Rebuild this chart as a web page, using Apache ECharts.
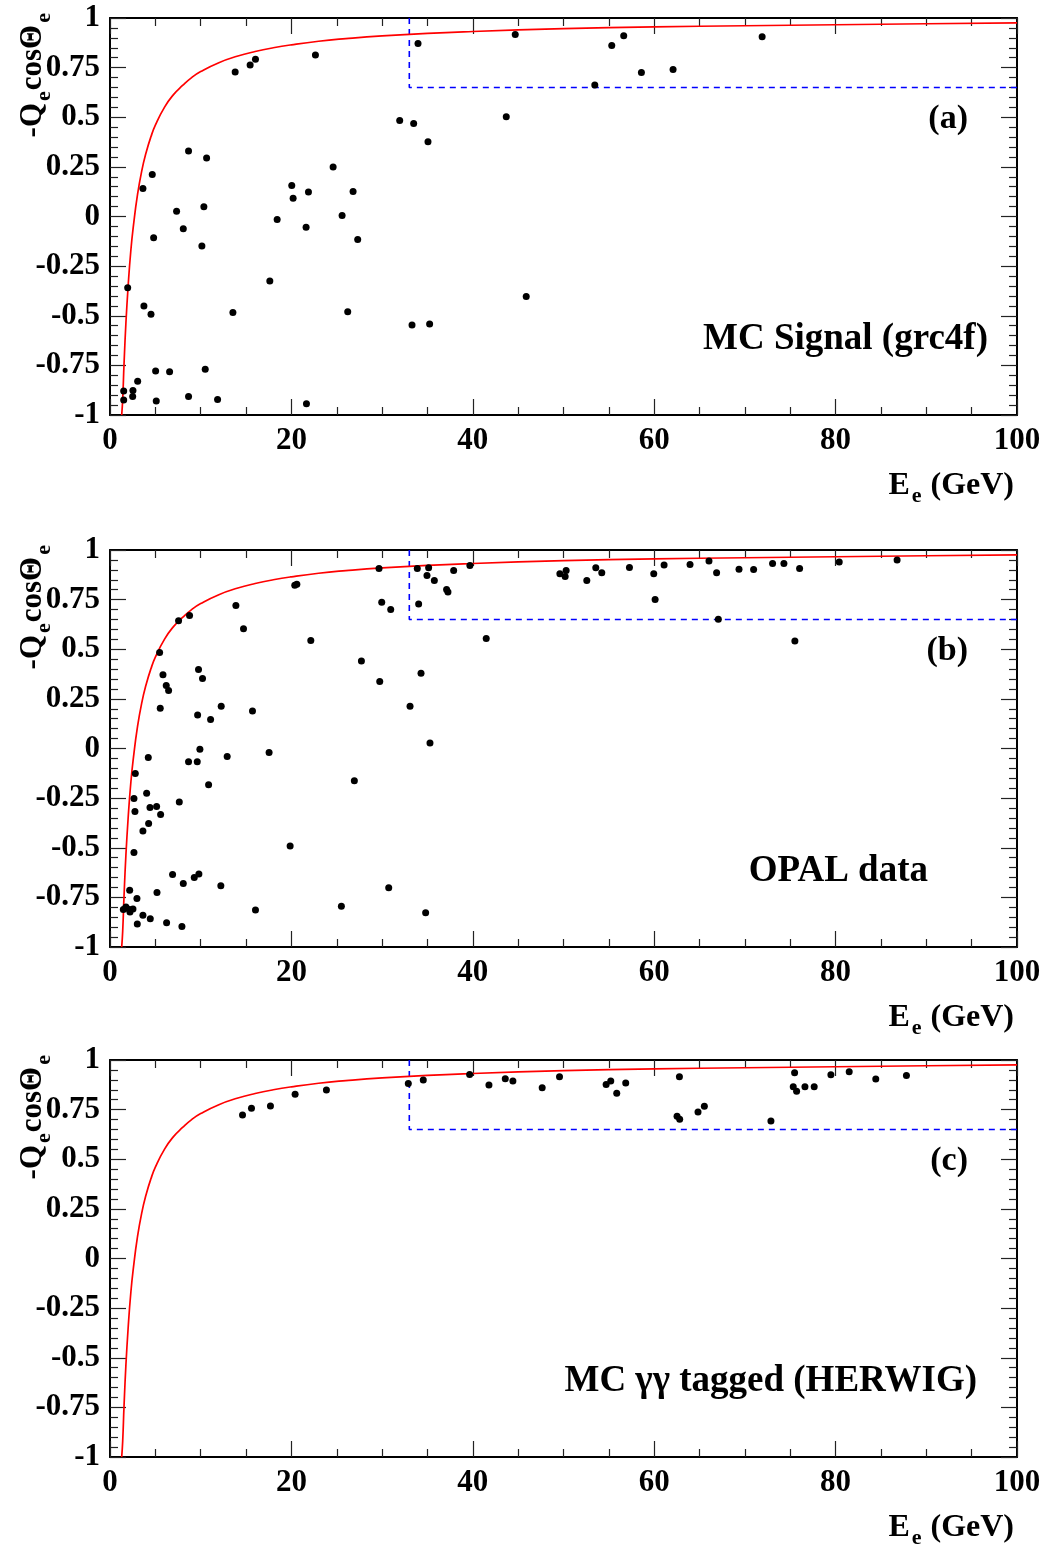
<!DOCTYPE html>
<html>
<head>
<meta charset="utf-8">
<script src="https://cdn.jsdelivr.net/npm/echarts@6/dist/echarts.min.js"></script>
<style>
html,body{margin:0;padding:0;background:#fff;}
#chart{width:1046px;height:1551px;}
</style>
</head>
<body>
<div id="chart"></div>
<script>
// ---- data (E_e in GeV, -Q_e cosTheta_e) ----
const mcSignal = [
  [33.96,0.872],[22.65,0.814],[16.04,0.792],[15.45,0.763],[13.8,0.728],[31.94,0.483],[33.48,0.468],
  [35.06,0.376],[8.66,0.330],[10.65,0.295],[24.6,0.250],[4.66,0.211],[3.63,0.141],[20.04,0.156],
  [20.19,0.092],[21.88,0.124],[26.8,0.126],[7.34,0.027],[10.35,0.049],[25.59,0.005],[18.43,-0.015],
  [8.08,-0.062],[21.62,-0.054],[4.81,-0.107],[27.31,-0.116],[10.13,-0.148],[17.62,-0.325],[1.95,-0.359],
  [3.74,-0.451],[4.52,-0.493],[13.55,-0.483],[26.21,-0.480],[33.3,-0.547],[35.24,-0.542],[5.03,-0.778],
  [6.57,-0.782],[10.5,-0.770],[3.05,-0.830],[1.51,-0.879],[2.53,-0.877],[2.5,-0.907],[1.51,-0.924],
  [5.1,-0.929],[8.66,-0.907],[11.86,-0.922],[21.66,-0.943],[44.68,0.917],[43.69,0.502],[45.89,-0.403],
  [53.45,0.663],[55.32,0.861],[56.64,0.911],[58.59,0.726],[62.08,0.740],[71.9,0.906]
];
const opalData = [
  [20.37,0.823],[20.6,0.827],[13.88,0.720],[8.77,0.670],[7.56,0.643],[14.72,0.603],[5.47,0.484],
  [9.76,0.398],[5.84,0.371],[10.2,0.353],[6.2,0.317],[6.46,0.292],[12.26,0.213],[5.54,0.203],
  [15.71,0.189],[9.66,0.169],[11.09,0.146],[9.91,-0.004],[17.54,-0.020],[4.22,-0.045],[12.92,-0.040],
  [8.66,-0.067],[9.62,-0.067],[2.79,-0.126],[10.87,-0.183],[4.04,-0.225],[2.64,-0.252],[7.64,-0.270],
  [4.41,-0.297],[5.14,-0.292],[2.75,-0.317],[5.58,-0.333],[4.26,-0.378],[3.63,-0.415],[2.64,-0.524],
  [19.86,-0.491],[6.9,-0.635],[9.8,-0.632],[9.29,-0.650],[8.08,-0.680],[12.22,-0.692],[2.17,-0.714],
  [5.18,-0.726],[2.97,-0.756],[1.76,-0.798],[1.47,-0.811],[2.13,-0.811],[2.53,-0.808],[2.2,-0.824],
  [16.04,-0.813],[3.63,-0.840],[4.44,-0.858],[3.01,-0.884],[6.24,-0.878],[7.93,-0.897],
  [29.66,0.907],[33.88,0.907],[35.13,0.910],[34.95,0.872],[35.76,0.846],[37.89,0.897],[37.11,0.801],
  [37.26,0.789],[39.68,0.922],[29.96,0.737],[30.95,0.700],[34.03,0.728],[22.14,0.544],[41.48,0.554],
  [27.72,0.441],[34.29,0.379],[29.74,0.338],[33.08,0.213],[35.28,0.028],[26.94,-0.163],[30.73,-0.702],
  [25.51,-0.795],[34.8,-0.828],
  [49.6,0.880],[50.29,0.897],[50.18,0.867],[52.57,0.846],[53.56,0.910],[54.22,0.885],[57.27,0.912],
  [59.95,0.880],[60.1,0.751],[61.09,0.925],[63.95,0.927],[66.04,0.944],[66.88,0.885],[67.07,0.651],
  [69.35,0.903],[70.96,0.902],[73.05,0.932],[74.3,0.932],[76.03,0.907],[75.51,0.541],[80.4,0.939],
  [86.78,0.949]
];
const mcGammaGamma = [
  [14.61,0.723],[15.6,0.757],[17.69,0.768],[20.41,0.827],[23.86,0.849],[32.89,0.882],[34.54,0.899],
  [39.65,0.927],[41.78,0.874],[43.58,0.906],[44.42,0.894],[47.65,0.860],[49.56,0.916],[54.7,0.877],
  [55.21,0.894],[55.87,0.832],[56.86,0.884],[62.78,0.916],[62.52,0.716],[62.81,0.701],[64.83,0.738],
  [65.53,0.767],[72.87,0.693],[75.48,0.936],[75.33,0.865],[75.7,0.842],[76.62,0.865],[77.64,0.865],
  [79.48,0.926],[81.5,0.941],[84.43,0.904],[87.81,0.922]
];
// red boundary curve
const boundaryCurve = [
  [1.29,-1],[1.4,-0.92],[1.55,-0.74],[1.75,-0.54],[2.0,-0.35],[2.3,-0.17],[2.6,-0.04],[3.0,0.1],
  [3.5,0.23],[4.0,0.325],[4.5,0.4],[5.0,0.46],[6.0,0.55],[7.0,0.614],[8.0,0.66],[9.0,0.70],[10,0.73],
  [12,0.775],[14,0.807],[16,0.831],[18,0.85],[20,0.865],[23,0.883],[26,0.896],[30,0.91],[35,0.923],
  [40,0.932],[50,0.946],[60,0.955],[70,0.961],[80,0.966],[90,0.971],[100,0.975]
];
// blue dashed selection region
const cutBox = [[33,1],[33,0.65],[100,0.65]];
const panelTags = ['(a)','(b)','(c)'];
const panelNames = ['MC Signal (grc4f)','OPAL data','MC \u03b3\u03b3 tagged (HERWIG)'];
const panelSets = [mcSignal, opalData, mcGammaGamma];

// ---- layout ----
const FONT = '"Liberation Serif","Times New Roman",serif';
const gridTops = [18, 550, 1060];
const gridH = 397;
const gLeft = 110, gRight = 29;

const chart = echarts.init(document.getElementById('chart'), null, {renderer:'canvas'});

const grids = [], xAxes = [], yAxes = [], series = [], graphics = [];
const tickStyle = {color:'#222', width:1.2};
const labelStyle = {fontFamily:FONT, fontWeight:'bold', fontSize:31, color:'#000'};

for (let i = 0; i < 3; i++) {
  grids.push({left:gLeft, right:gRight, top:gridTops[i], height:gridH, show:false});
  const common = {type:'value', gridIndex:i, splitLine:{show:false},
    axisLine:{show:true, onZero:false, lineStyle:{color:'#000', width:2}},
    axisTick:{show:true, inside:true, length:16, lineStyle:tickStyle}};
  xAxes.push(Object.assign({}, common, {position:'bottom', min:0, max:100, interval:20,
    minorTick:{show:true, splitNumber:4, length:8, lineStyle:tickStyle},
    axisLabel:Object.assign({margin:10}, labelStyle)}));
  xAxes.push(Object.assign({}, common, {position:'top', min:0, max:100, interval:20,
    minorTick:{show:true, splitNumber:4, length:8, lineStyle:tickStyle},
    axisLabel:{show:false}}));
  yAxes.push(Object.assign({}, common, {position:'left', min:-1, max:1, interval:0.25,
    minorTick:{show:true, splitNumber:5, length:8, lineStyle:tickStyle},
    axisLabel:Object.assign({margin:10}, labelStyle)}));
  yAxes.push(Object.assign({}, common, {position:'right', min:-1, max:1, interval:0.25,
    minorTick:{show:true, splitNumber:5, length:8, lineStyle:tickStyle},
    axisLabel:{show:false}}));

  series.push({type:'line', xAxisIndex:2*i, yAxisIndex:2*i, data:cutBox, showSymbol:false, symbol:'none',
    lineStyle:{color:'#0000ff', width:1.6, type:[6,5]}, silent:true, z:2});
  series.push({type:'line', xAxisIndex:2*i, yAxisIndex:2*i, data:boundaryCurve, showSymbol:false, symbol:'none',
    smooth:0.5, lineStyle:{color:'#ff0000', width:1.7}, silent:true, z:3});
  series.push({type:'scatter', xAxisIndex:2*i, yAxisIndex:2*i, data:panelSets[i], symbol:'circle',
    symbolSize:7, itemStyle:{color:'#000', opacity:1}, z:4});

  const top = gridTops[i];
  // panel tag
  graphics.push({type:'text', x:968, y:top + 101, style:{text:panelTags[i], fill:'#000',
    font:'bold 34px ' + FONT, align:'right', verticalAlign:'middle'}});
  // panel name
  graphics.push({type:'text', x:[988, 928, 977][i], y:top + 321, style:{text:panelNames[i], fill:'#000',
    font:'bold 37px ' + FONT, align:'right', verticalAlign:'middle'}});
  // x axis title
  graphics.push({type:'text', x:1014, y:top + gridH + 73, style:{
    text:'{m|E}{s|e}{m| (GeV)}', align:'right', verticalAlign:'middle',
    rich:{m:{fontFamily:FONT, fontWeight:'bold', fontSize:32, fill:'#000', verticalAlign:'top', height:33},
          s:{fontFamily:FONT, fontWeight:'bold', fontSize:22, fill:'#000', verticalAlign:'bottom', padding:[16,1,0,2]}}}});
  // y axis title (rotated)
  graphics.push({type:'text', x:36, y:top - 6, rotation:Math.PI/2, style:{
    text:'{m|-Q}{s|e}{m|cos\u0398}{s|e}', align:'right', verticalAlign:'middle',
    rich:{m:{fontFamily:FONT, fontWeight:'bold', fontSize:31, fill:'#000', verticalAlign:'top', height:32},
          s:{fontFamily:FONT, fontWeight:'bold', fontSize:22, fill:'#000', verticalAlign:'bottom', padding:[16,1,0,2]}}}});
}

chart.setOption({
  animation:false,
  backgroundColor:'#fff',
  grid:grids, xAxis:xAxes, yAxis:yAxes, series:series, graphic:graphics
});
</script>
</body>
</html>
